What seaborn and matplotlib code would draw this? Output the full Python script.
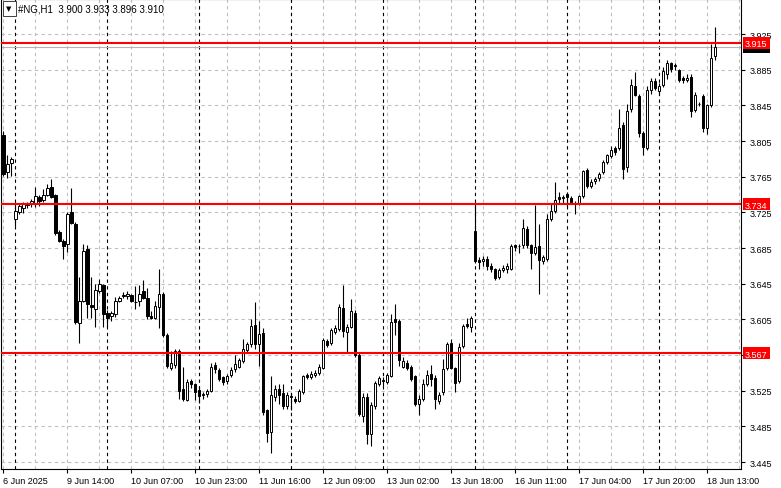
import numpy as np
import pandas as pd
import matplotlib
matplotlib.use("Agg")
import matplotlib.pyplot as plt
import matplotlib.transforms as mtransforms
from matplotlib.patches import Rectangle
import seaborn as sns

# OHLC das velas H1
opens = [3.812, 3.770, 3.780, 3.718, 3.725, 3.730, 3.733, 3.734, 3.736, 3.742,
         3.739, 3.745, 3.754, 3.745, 3.703, 3.693, 3.689, 3.725, 3.712, 3.601,
         3.626, 3.684, 3.621, 3.617, 3.637, 3.644, 3.612, 3.609, 3.611, 3.626,
         3.631, 3.631, 3.632, 3.625, 3.626, 3.637, 3.629, 3.609, 3.607, 3.619,
         3.633, 3.588, 3.551, 3.554, 3.570, 3.527, 3.515, 3.536, 3.532, 3.526,
         3.520, 3.521, 3.525, 3.554, 3.548, 3.540, 3.536, 3.543, 3.549, 3.552,
         3.558, 3.571, 3.577, 3.599, 3.577, 3.590, 3.503, 3.479, 3.518, 3.527,
         3.522, 3.508, 3.519, 3.516, 3.514, 3.523, 3.543, 3.540, 3.543, 3.545,
         3.550, 3.581, 3.578, 3.591, 3.594, 3.618, 3.591, 3.597, 3.612, 3.565,
         3.497, 3.518, 3.476, 3.508, 3.533, 3.537, 3.535, 3.542, 3.605, 3.603,
         3.552, 3.556, 3.552, 3.541, 3.510, 3.516, 3.532, 3.544, 3.539, 3.514,
         3.523, 3.551, 3.578, 3.550, 3.536, 3.575, 3.600, 3.597, 3.704, 3.672,
         3.670, 3.673, 3.665, 3.661, 3.653, 3.660, 3.661, 3.662, 3.688, 3.687,
         3.688, 3.706, 3.688, 3.680, 3.687, 3.671, 3.673, 3.718, 3.727, 3.742,
         3.741, 3.746, 3.741, 3.736, 3.736, 3.743, 3.772, 3.755, 3.760, 3.763,
         3.770, 3.781, 3.788, 3.797, 3.797, 3.823, 3.776, 3.841, 3.867, 3.855,
         3.814, 3.797, 3.862, 3.872, 3.861, 3.868, 3.880, 3.892, 3.890, 3.885,
         3.876, 3.873, 3.877, 3.840, 3.847, 3.855, 3.820, 3.845, 3.900]
highs = [3.816, 3.789, 3.787, 3.734, 3.736, 3.737, 3.737, 3.740, 3.753, 3.745,
         3.751, 3.757, 3.762, 3.746, 3.705, 3.695, 3.725, 3.752, 3.714, 3.652,
         3.689, 3.688, 3.652, 3.645, 3.650, 3.645, 3.616, 3.614, 3.630, 3.631,
         3.636, 3.637, 3.634, 3.642, 3.644, 3.649, 3.640, 3.614, 3.626, 3.661,
         3.636, 3.590, 3.570, 3.572, 3.572, 3.552, 3.538, 3.538, 3.534, 3.530,
         3.524, 3.527, 3.556, 3.557, 3.550, 3.542, 3.544, 3.552, 3.565, 3.562,
         3.583, 3.580, 3.605, 3.624, 3.603, 3.595, 3.505, 3.542, 3.531, 3.533,
         3.533, 3.523, 3.522, 3.519, 3.527, 3.543, 3.545, 3.547, 3.548, 3.555,
         3.584, 3.583, 3.595, 3.599, 3.622, 3.643, 3.600, 3.628, 3.615, 3.567,
         3.522, 3.522, 3.512, 3.536, 3.542, 3.540, 3.545, 3.611, 3.622, 3.605,
         3.563, 3.560, 3.554, 3.543, 3.520, 3.538, 3.548, 3.554, 3.543, 3.524,
         3.561, 3.580, 3.583, 3.552, 3.578, 3.600, 3.606, 3.609, 3.734, 3.675,
         3.676, 3.676, 3.668, 3.663, 3.663, 3.666, 3.668, 3.690, 3.690, 3.689,
         3.718, 3.710, 3.690, 3.733, 3.712, 3.677, 3.723, 3.735, 3.759, 3.748,
         3.744, 3.748, 3.743, 3.738, 3.745, 3.773, 3.775, 3.762, 3.765, 3.770,
         3.784, 3.791, 3.800, 3.800, 3.841, 3.826, 3.846, 3.875, 3.882, 3.858,
         3.816, 3.867, 3.876, 3.876, 3.870, 3.888, 3.896, 3.894, 3.893, 3.886,
         3.878, 3.880, 3.880, 3.860, 3.849, 3.858, 3.847, 3.914, 3.933]
lows = [3.766, 3.764, 3.766, 3.710, 3.723, 3.724, 3.730, 3.731, 3.731, 3.732,
        3.737, 3.743, 3.741, 3.700, 3.692, 3.673, 3.681, 3.712, 3.600, 3.579,
        3.624, 3.607, 3.607, 3.596, 3.635, 3.596, 3.596, 3.603, 3.608, 3.624,
        3.629, 3.628, 3.625, 3.617, 3.620, 3.628, 3.605, 3.605, 3.605, 3.595,
        3.585, 3.550, 3.548, 3.550, 3.516, 3.513, 3.513, 3.528, 3.515, 3.511,
        3.516, 3.518, 3.523, 3.545, 3.536, 3.531, 3.533, 3.540, 3.546, 3.550,
        3.556, 3.568, 3.574, 3.572, 3.553, 3.498, 3.467, 3.455, 3.513, 3.510,
        3.505, 3.505, 3.503, 3.511, 3.512, 3.521, 3.538, 3.538, 3.540, 3.543,
        3.549, 3.574, 3.576, 3.589, 3.592, 3.585, 3.568, 3.595, 3.563, 3.497,
        3.490, 3.465, 3.463, 3.505, 3.530, 3.530, 3.533, 3.540, 3.587, 3.553,
        3.550, 3.548, 3.536, 3.508, 3.498, 3.513, 3.530, 3.530, 3.504, 3.510,
        3.520, 3.548, 3.549, 3.524, 3.534, 3.573, 3.595, 3.591, 3.668, 3.661,
        3.665, 3.660, 3.658, 3.649, 3.650, 3.658, 3.657, 3.660, 3.682, 3.680,
        3.685, 3.685, 3.662, 3.677, 3.633, 3.667, 3.671, 3.715, 3.724, 3.735,
        3.734, 3.731, 3.734, 3.723, 3.733, 3.741, 3.752, 3.752, 3.757, 3.760,
        3.768, 3.779, 3.786, 3.789, 3.795, 3.762, 3.770, 3.838, 3.855, 3.810,
        3.789, 3.795, 3.858, 3.862, 3.858, 3.866, 3.875, 3.882, 3.885, 3.871,
        3.870, 3.871, 3.832, 3.838, 3.844, 3.815, 3.813, 3.843, 3.896]
closes = [3.768, 3.779, 3.785, 3.726, 3.732, 3.734, 3.735, 3.738, 3.743, 3.738,
          3.745, 3.752, 3.742, 3.702, 3.693, 3.687, 3.723, 3.713, 3.602, 3.626,
          3.682, 3.622, 3.619, 3.638, 3.645, 3.611, 3.606, 3.612, 3.626, 3.629,
          3.632, 3.634, 3.626, 3.624, 3.634, 3.629, 3.609, 3.607, 3.620, 3.634,
          3.588, 3.553, 3.556, 3.570, 3.525, 3.516, 3.535, 3.532, 3.523, 3.519,
          3.521, 3.525, 3.552, 3.549, 3.538, 3.535, 3.541, 3.548, 3.555, 3.559,
          3.572, 3.577, 3.598, 3.577, 3.589, 3.501, 3.478, 3.520, 3.527, 3.520,
          3.508, 3.520, 3.518, 3.514, 3.525, 3.541, 3.540, 3.544, 3.545, 3.552,
          3.582, 3.576, 3.593, 3.595, 3.619, 3.592, 3.597, 3.614, 3.565, 3.499,
          3.518, 3.476, 3.509, 3.534, 3.539, 3.536, 3.543, 3.602, 3.602, 3.560,
          3.558, 3.551, 3.538, 3.510, 3.516, 3.533, 3.543, 3.538, 3.516, 3.520,
          3.549, 3.577, 3.551, 3.534, 3.574, 3.598, 3.598, 3.607, 3.670, 3.669,
          3.673, 3.665, 3.661, 3.651, 3.660, 3.663, 3.665, 3.687, 3.686, 3.687,
          3.707, 3.688, 3.680, 3.686, 3.672, 3.675, 3.718, 3.727, 3.739, 3.740,
          3.741, 3.742, 3.737, 3.734, 3.743, 3.771, 3.755, 3.759, 3.762, 3.768,
          3.782, 3.789, 3.795, 3.793, 3.820, 3.774, 3.839, 3.868, 3.857, 3.814,
          3.798, 3.862, 3.872, 3.865, 3.867, 3.883, 3.893, 3.886, 3.889, 3.874,
          3.873, 3.876, 3.839, 3.857, 3.846, 3.820, 3.845, 3.898, 3.910]

# rótulos do eixo de tempo (um a cada 16 barras)
time_labels = ['6 Jun 2025', '9 Jun 14:00', '10 Jun 07:00', '10 Jun 23:00',
               '11 Jun 16:00', '12 Jun 09:00', '13 Jun 02:00', '13 Jun 18:00',
               '16 Jun 11:00', '17 Jun 04:00', '17 Jun 20:00', '18 Jun 13:00']
# primeira barra de cada dia (separadores de período)
day_starts = [3, 26, 49, 72, 95, 118, 141, 164]
# níveis horizontais
levels = [3.915, 3.734, 3.567]
symbol = '#NG,H1'

df = pd.DataFrame({'open': opens, 'high': highs, 'low': lows, 'close': closes})
df['bar'] = np.arange(len(df))
df['up'] = df['close'] >= df['open']
df['bottom'] = df[['open', 'close']].min(axis=1)
df['body'] = (df['close'] - df['open']).abs().clip(lower=0.0008)

sns.set_theme(style="white")
plt.rcParams['font.family'] = ['Liberation Sans', 'DejaVu Sans']

W, H = 781, 489
fig = plt.figure(figsize=(W / 100, H / 100), dpi=100)
ax = fig.add_axes([0.5 / W, 19 / H, 740.5 / W, 470 / H])

# escala: 4 px por barra, ~891.7 px por unidade de preço
ax.set_xlim(-0.75, 184.5)
ax.set_ylim(3.4372, 3.9643)
px_y = (3.9643 - 3.4372) / 470    # preço por pixel
px_x = 1 / 740.5                  # fração do eixo por pixel

# grade cinza tracejada
yt = np.round(np.arange(3.445, 3.926, 0.04), 3)
for y in yt:
    ax.axhline(y, color='#c0c0c0', lw=0.8, ls=(0, (3, 3)), zorder=0)
for x in range(0, 185, 8):
    ax.axvline(x, color='#c0c0c0', lw=0.8, ls=(0, (3, 3)), zorder=0)
for x in day_starts:
    ax.axvline(x, color='black', lw=0.8, ls=(0, (3, 3)), zorder=1)

# velas
ax.vlines(df['bar'], df['low'], df['high'], color='black', lw=0.8, zorder=2)
ax.bar(df['bar'], df['body'], bottom=df['bottom'], width=0.55,
       color=np.where(df['up'], 'white', 'black'), edgecolor='black',
       linewidth=0.7, zorder=3)

# linha do preço atual
last = df.iloc[-1]
ax.axhline(last['close'], color='#b4b4b4', lw=0.8, zorder=1)

# níveis em vermelho
for lv in levels:
    ax.axhline(lv, color='red', lw=1.5, zorder=4)

# caixas de preço no eixo direito
trans = mtransforms.blended_transform_factory(ax.transAxes, ax.transData)
box_x0, box_w, box_h = 1 + 1.5 * px_x, 27 * px_x, 12 * px_y
ax.add_patch(Rectangle((box_x0, last['close'] - box_h / 2), box_w, box_h,
                       transform=trans, fc='black', ec='none', clip_on=False, zorder=8))
for lv in levels:
    ax.add_patch(Rectangle((box_x0, lv - box_h / 2), box_w, box_h, transform=trans,
                           fc='red', ec='none', clip_on=False, zorder=9))
    ax.text(box_x0 + box_w / 2, lv, f"{lv:.3f}", transform=trans, color='white',
            fontsize=6.5, va='center_baseline', ha='center', clip_on=False, zorder=10)

# eixos
ax.yaxis.tick_right()
ax.set_yticks(yt)
ax.set_yticklabels(['' if abs(v - 3.565) < 1e-6 else f'{v:.3f}' for v in yt])
ax.set_xticks(np.arange(0, len(df), 16))
ax.set_xticklabels(time_labels)
for lab in ax.get_xticklabels():
    lab.set_horizontalalignment('left')
ax.tick_params(axis='both', length=3, width=0.8, color='black', labelsize=6.5,
               labelcolor='black', pad=2, direction='out')
ax.tick_params(axis='x', bottom=True)
ax.tick_params(axis='y', right=True, pad=3)
for sp in ax.spines.values():
    sp.set_color('black')
    sp.set_linewidth(0.8)
    sp.set_visible(True)

# cabeçalho
ax.add_patch(Rectangle((2 * px_x, 1 - 17 / 470), 13 * px_x, 15 / 470,
                       transform=ax.transAxes, fc='white', ec='#404040', lw=0.7, zorder=10))
ax.text(8.5 * px_x, 1 - 9.5 / 470, "\u25BC", transform=ax.transAxes, fontsize=5,
        va='center', ha='center', color='black', family='DejaVu Sans', zorder=11)
ax.text(18 * px_x, 1 - 10 / 470, f"{symbol}  {last['open']:.3f} {last['high']:.3f} "
        f"{last['low']:.3f} {last['close']:.3f}", transform=ax.transAxes,
        fontsize=7, va='center', ha='left', color='black', zorder=10)

fig.savefig('out.png', dpi=100)
